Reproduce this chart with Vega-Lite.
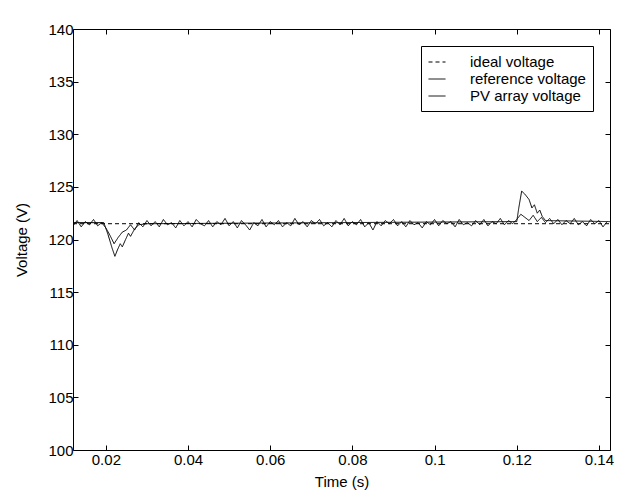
{
  "$schema": "https://vega.github.io/schema/vega-lite/v6.json",
  "width": 537,
  "height": 421,
  "autosize": {"type": "none"},
  "padding": {"left": 73, "top": 29, "right": 19, "bottom": 50},
  "background": "white",
  "config": {
    "font": "Liberation Sans",
    "view": {"stroke": "black", "strokeWidth": 1},
    "axis": {
      "grid": false,
      "domain": false,
      "tickColor": "black",
      "tickSize": -5,
      "labelColor": "black",
      "labelFontSize": 15,
      "labelFont": "Liberation Sans",
      "titleFont": "Liberation Sans",
      "titleFontSize": 15,
      "titleFontWeight": "normal",
      "titleColor": "black"
    }
  },
  "data": {
    "values": [
      {"t": 0.012, "v": 121.5, "series": "ideal voltage"},
      {"t": 0.1427, "v": 121.5, "series": "ideal voltage"},

      {"t": 0.012, "v": 121.6, "series": "reference voltage"},
      {"t": 0.0195, "v": 121.6, "series": "reference voltage"},
      {"t": 0.0205, "v": 120.5, "series": "reference voltage"},
      {"t": 0.0215, "v": 119.2, "series": "reference voltage"},
      {"t": 0.0222, "v": 118.4, "series": "reference voltage"},
      {"t": 0.0228, "v": 119.0, "series": "reference voltage"},
      {"t": 0.0235, "v": 119.6, "series": "reference voltage"},
      {"t": 0.024, "v": 119.3, "series": "reference voltage"},
      {"t": 0.0248, "v": 120.0, "series": "reference voltage"},
      {"t": 0.0255, "v": 120.6, "series": "reference voltage"},
      {"t": 0.026, "v": 120.3, "series": "reference voltage"},
      {"t": 0.027, "v": 121.0, "series": "reference voltage"},
      {"t": 0.028, "v": 121.4, "series": "reference voltage"},
      {"t": 0.030, "v": 121.5, "series": "reference voltage"},
      {"t": 0.1200, "v": 121.7, "series": "reference voltage"},
      {"t": 0.1205, "v": 123.0, "series": "reference voltage"},
      {"t": 0.1212, "v": 124.6, "series": "reference voltage"},
      {"t": 0.122, "v": 124.3, "series": "reference voltage"},
      {"t": 0.123, "v": 123.8, "series": "reference voltage"},
      {"t": 0.1237, "v": 123.0, "series": "reference voltage"},
      {"t": 0.1243, "v": 123.3, "series": "reference voltage"},
      {"t": 0.125, "v": 122.5, "series": "reference voltage"},
      {"t": 0.1256, "v": 122.8, "series": "reference voltage"},
      {"t": 0.1262, "v": 122.2, "series": "reference voltage"},
      {"t": 0.127, "v": 121.8, "series": "reference voltage"},
      {"t": 0.1427, "v": 121.7, "series": "reference voltage"},

      {"t": 0.012, "v": 121.3, "series": "PV array voltage"},
      {"t": 0.013, "v": 121.8, "series": "PV array voltage"},
      {"t": 0.014, "v": 121.2, "series": "PV array voltage"},
      {"t": 0.015, "v": 121.7, "series": "PV array voltage"},
      {"t": 0.016, "v": 121.4, "series": "PV array voltage"},
      {"t": 0.017, "v": 121.9, "series": "PV array voltage"},
      {"t": 0.018, "v": 121.3, "series": "PV array voltage"},
      {"t": 0.019, "v": 121.6, "series": "PV array voltage"},
      {"t": 0.020, "v": 121.1, "series": "PV array voltage"},
      {"t": 0.021, "v": 120.4, "series": "PV array voltage"},
      {"t": 0.022, "v": 119.6, "series": "PV array voltage"},
      {"t": 0.023, "v": 120.2, "series": "PV array voltage"},
      {"t": 0.024, "v": 120.7, "series": "PV array voltage"},
      {"t": 0.025, "v": 120.9, "series": "PV array voltage"},
      {"t": 0.026, "v": 121.4, "series": "PV array voltage"},
      {"t": 0.027, "v": 120.9, "series": "PV array voltage"},
      {"t": 0.028, "v": 121.6, "series": "PV array voltage"},
      {"t": 0.029, "v": 121.2, "series": "PV array voltage"},
      {"t": 0.030, "v": 121.8, "series": "PV array voltage"},
      {"t": 0.031, "v": 121.3, "series": "PV array voltage"},
      {"t": 0.032, "v": 121.7, "series": "PV array voltage"},
      {"t": 0.033, "v": 121.2, "series": "PV array voltage"},
      {"t": 0.034, "v": 121.9, "series": "PV array voltage"},
      {"t": 0.035, "v": 121.4, "series": "PV array voltage"},
      {"t": 0.036, "v": 121.6, "series": "PV array voltage"},
      {"t": 0.037, "v": 121.1, "series": "PV array voltage"},
      {"t": 0.038, "v": 121.8, "series": "PV array voltage"},
      {"t": 0.039, "v": 121.3, "series": "PV array voltage"},
      {"t": 0.040, "v": 121.7, "series": "PV array voltage"},
      {"t": 0.041, "v": 121.2, "series": "PV array voltage"},
      {"t": 0.042, "v": 121.9, "series": "PV array voltage"},
      {"t": 0.043, "v": 121.5, "series": "PV array voltage"},
      {"t": 0.044, "v": 121.3, "series": "PV array voltage"},
      {"t": 0.045, "v": 121.8, "series": "PV array voltage"},
      {"t": 0.046, "v": 121.2, "series": "PV array voltage"},
      {"t": 0.047, "v": 121.7, "series": "PV array voltage"},
      {"t": 0.048, "v": 121.4, "series": "PV array voltage"},
      {"t": 0.049, "v": 122.0, "series": "PV array voltage"},
      {"t": 0.050, "v": 121.3, "series": "PV array voltage"},
      {"t": 0.051, "v": 121.7, "series": "PV array voltage"},
      {"t": 0.052, "v": 121.1, "series": "PV array voltage"},
      {"t": 0.053, "v": 121.8, "series": "PV array voltage"},
      {"t": 0.054, "v": 121.4, "series": "PV array voltage"},
      {"t": 0.055, "v": 120.9, "series": "PV array voltage"},
      {"t": 0.056, "v": 121.6, "series": "PV array voltage"},
      {"t": 0.057, "v": 121.3, "series": "PV array voltage"},
      {"t": 0.058, "v": 121.9, "series": "PV array voltage"},
      {"t": 0.059, "v": 121.2, "series": "PV array voltage"},
      {"t": 0.060, "v": 121.7, "series": "PV array voltage"},
      {"t": 0.061, "v": 121.4, "series": "PV array voltage"},
      {"t": 0.062, "v": 121.8, "series": "PV array voltage"},
      {"t": 0.063, "v": 121.2, "series": "PV array voltage"},
      {"t": 0.064, "v": 121.6, "series": "PV array voltage"},
      {"t": 0.065, "v": 121.3, "series": "PV array voltage"},
      {"t": 0.066, "v": 122.0, "series": "PV array voltage"},
      {"t": 0.067, "v": 121.4, "series": "PV array voltage"},
      {"t": 0.068, "v": 121.7, "series": "PV array voltage"},
      {"t": 0.069, "v": 121.2, "series": "PV array voltage"},
      {"t": 0.070, "v": 121.8, "series": "PV array voltage"},
      {"t": 0.071, "v": 121.5, "series": "PV array voltage"},
      {"t": 0.072, "v": 121.9, "series": "PV array voltage"},
      {"t": 0.073, "v": 121.3, "series": "PV array voltage"},
      {"t": 0.074, "v": 121.6, "series": "PV array voltage"},
      {"t": 0.075, "v": 121.2, "series": "PV array voltage"},
      {"t": 0.076, "v": 121.8, "series": "PV array voltage"},
      {"t": 0.077, "v": 121.4, "series": "PV array voltage"},
      {"t": 0.078, "v": 122.0, "series": "PV array voltage"},
      {"t": 0.079, "v": 121.3, "series": "PV array voltage"},
      {"t": 0.080, "v": 121.7, "series": "PV array voltage"},
      {"t": 0.081, "v": 121.4, "series": "PV array voltage"},
      {"t": 0.082, "v": 121.9, "series": "PV array voltage"},
      {"t": 0.083, "v": 121.2, "series": "PV array voltage"},
      {"t": 0.084, "v": 121.6, "series": "PV array voltage"},
      {"t": 0.085, "v": 120.9, "series": "PV array voltage"},
      {"t": 0.086, "v": 121.7, "series": "PV array voltage"},
      {"t": 0.087, "v": 121.3, "series": "PV array voltage"},
      {"t": 0.088, "v": 121.8, "series": "PV array voltage"},
      {"t": 0.089, "v": 121.5, "series": "PV array voltage"},
      {"t": 0.090, "v": 121.9, "series": "PV array voltage"},
      {"t": 0.091, "v": 121.3, "series": "PV array voltage"},
      {"t": 0.092, "v": 121.7, "series": "PV array voltage"},
      {"t": 0.093, "v": 121.2, "series": "PV array voltage"},
      {"t": 0.094, "v": 121.8, "series": "PV array voltage"},
      {"t": 0.095, "v": 121.4, "series": "PV array voltage"},
      {"t": 0.096, "v": 121.6, "series": "PV array voltage"},
      {"t": 0.097, "v": 121.1, "series": "PV array voltage"},
      {"t": 0.098, "v": 121.7, "series": "PV array voltage"},
      {"t": 0.099, "v": 121.4, "series": "PV array voltage"},
      {"t": 0.100, "v": 121.9, "series": "PV array voltage"},
      {"t": 0.101, "v": 121.3, "series": "PV array voltage"},
      {"t": 0.102, "v": 121.8, "series": "PV array voltage"},
      {"t": 0.103, "v": 121.5, "series": "PV array voltage"},
      {"t": 0.104, "v": 121.7, "series": "PV array voltage"},
      {"t": 0.105, "v": 121.2, "series": "PV array voltage"},
      {"t": 0.106, "v": 121.9, "series": "PV array voltage"},
      {"t": 0.107, "v": 121.4, "series": "PV array voltage"},
      {"t": 0.108, "v": 121.6, "series": "PV array voltage"},
      {"t": 0.109, "v": 121.3, "series": "PV array voltage"},
      {"t": 0.110, "v": 121.8, "series": "PV array voltage"},
      {"t": 0.111, "v": 121.4, "series": "PV array voltage"},
      {"t": 0.112, "v": 121.9, "series": "PV array voltage"},
      {"t": 0.113, "v": 121.3, "series": "PV array voltage"},
      {"t": 0.114, "v": 121.7, "series": "PV array voltage"},
      {"t": 0.115, "v": 121.5, "series": "PV array voltage"},
      {"t": 0.116, "v": 122.0, "series": "PV array voltage"},
      {"t": 0.117, "v": 121.4, "series": "PV array voltage"},
      {"t": 0.118, "v": 121.8, "series": "PV array voltage"},
      {"t": 0.119, "v": 121.5, "series": "PV array voltage"},
      {"t": 0.120, "v": 121.9, "series": "PV array voltage"},
      {"t": 0.121, "v": 122.4, "series": "PV array voltage"},
      {"t": 0.122, "v": 122.1, "series": "PV array voltage"},
      {"t": 0.123, "v": 121.8, "series": "PV array voltage"},
      {"t": 0.124, "v": 122.3, "series": "PV array voltage"},
      {"t": 0.125, "v": 121.7, "series": "PV array voltage"},
      {"t": 0.126, "v": 122.1, "series": "PV array voltage"},
      {"t": 0.127, "v": 121.6, "series": "PV array voltage"},
      {"t": 0.128, "v": 122.0, "series": "PV array voltage"},
      {"t": 0.129, "v": 121.5, "series": "PV array voltage"},
      {"t": 0.130, "v": 121.9, "series": "PV array voltage"},
      {"t": 0.131, "v": 121.4, "series": "PV array voltage"},
      {"t": 0.132, "v": 121.8, "series": "PV array voltage"},
      {"t": 0.133, "v": 121.5, "series": "PV array voltage"},
      {"t": 0.134, "v": 122.0, "series": "PV array voltage"},
      {"t": 0.135, "v": 121.4, "series": "PV array voltage"},
      {"t": 0.136, "v": 121.7, "series": "PV array voltage"},
      {"t": 0.137, "v": 121.3, "series": "PV array voltage"},
      {"t": 0.138, "v": 121.9, "series": "PV array voltage"},
      {"t": 0.139, "v": 121.5, "series": "PV array voltage"},
      {"t": 0.140, "v": 121.8, "series": "PV array voltage"},
      {"t": 0.141, "v": 121.2, "series": "PV array voltage"},
      {"t": 0.142, "v": 121.7, "series": "PV array voltage"}
    ]
  },
  "resolve": {"scale": {"x": "independent", "y": "independent"}},
  "layer": [
    {
      "mark": {"type": "line", "color": "black", "strokeWidth": 1, "clip": true},
      "encoding": {
        "x": {
          "field": "t", "type": "quantitative",
          "scale": {"domain": [0.012, 0.1427], "nice": false, "zero": false},
          "axis": {"orient": "bottom", "title": "Time (s)", "values": [0.02, 0.04, 0.06, 0.08, 0.1, 0.12, 0.14], "format": "~g", "labelPadding": 7, "titlePadding": 7}
        },
        "y": {
          "field": "v", "type": "quantitative",
          "scale": {"domain": [100, 140], "nice": false, "zero": false},
          "axis": {"orient": "left", "title": "Voltage (V)", "values": [100, 105, 110, 115, 120, 125, 130, 135, 140], "labelPadding": 5, "titlePadding": 18}
        },
        "detail": {"field": "series"},
        "strokeDash": {
          "field": "series", "type": "nominal",
          "scale": {"domain": ["ideal voltage", "reference voltage", "PV array voltage"], "range": [[4, 3], [1, 0], [1, 0]]},
          "legend": {
            "title": null,
            "orient": "top-right",
            "offset": 17,
            "strokeColor": "black",
            "fillColor": "white",
            "padding": 7,
            "symbolType": "stroke",
            "symbolSize": 289,
            "symbolStrokeColor": "black",
            "symbolStrokeWidth": 1,
            "labelFontSize": 15,
            "labelColor": "black",
            "labelFont": "Liberation Sans",
            "labelOffset": 24,
            "labelExpr": "datum.label + '\u00a0\u00a0'",
            "rowPadding": 0,
            "cornerRadius": 0
          }
        }
      }
    },
    {
      "mark": {"type": "rule", "opacity": 0},
      "encoding": {
        "x": {
          "datum": 0.02, "type": "quantitative",
          "scale": {"domain": [0.012, 0.1427], "nice": false, "zero": false},
          "axis": {"orient": "top", "title": null, "labels": false, "values": [0.02, 0.04, 0.06, 0.08, 0.1, 0.12, 0.14]}
        },
        "y": {
          "datum": 120, "type": "quantitative",
          "scale": {"domain": [100, 140], "nice": false, "zero": false},
          "axis": {"orient": "right", "title": null, "labels": false, "values": [100, 105, 110, 115, 120, 125, 130, 135, 140]}
        }
      }
    }
  ]
}
